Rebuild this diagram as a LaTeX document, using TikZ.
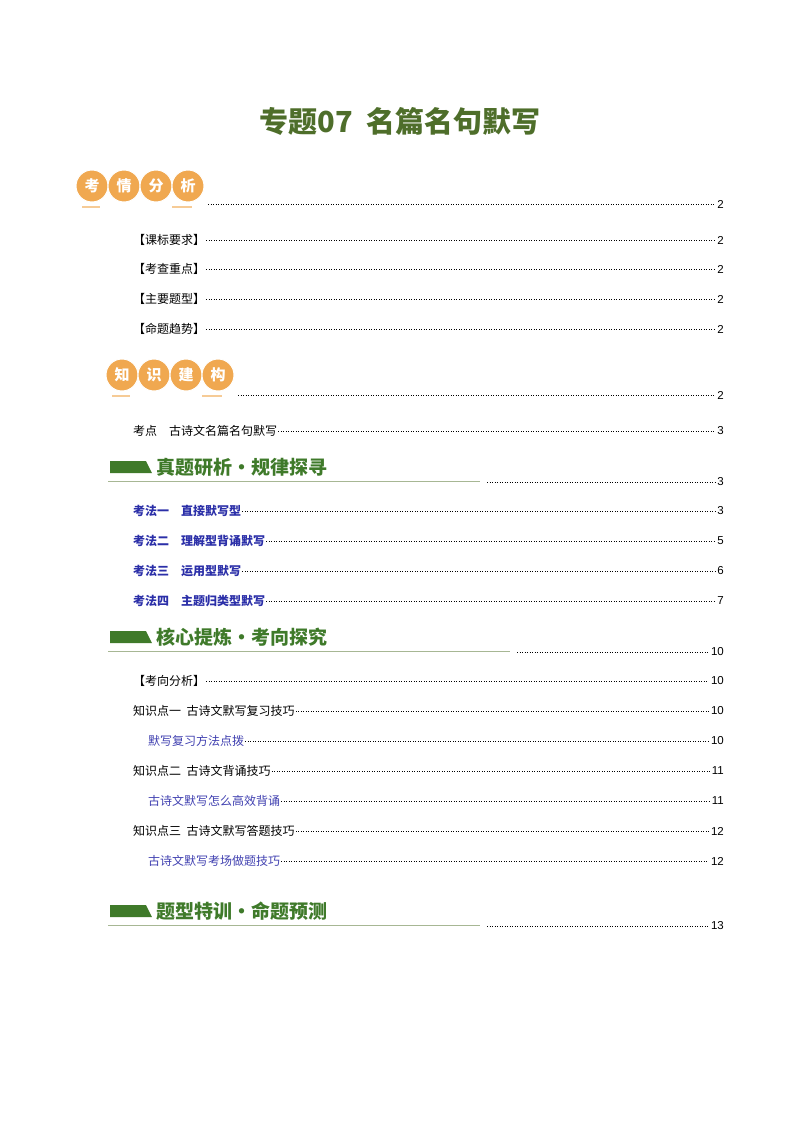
\documentclass[tikz,border=0pt]{standalone}
\usepackage{fontspec}
\setmainfont{Liberation Sans}
\newfontfamily\cjk{Noto Sans CJK SC}
\definecolor{tgreen}{HTML}{4E6E2A}
\definecolor{bgreen}{HTML}{3F7A2A}
\definecolor{borange}{HTML}{F0A850}
\definecolor{tblue}{HTML}{2B2FA8}
\definecolor{lblue}{HTML}{4040B0}
\tikzset{
  entry/.style={anchor=west,inner sep=0pt,font=\cjk\fontsize{12}{14}\selectfont},
  pg/.style={anchor=east,inner sep=0pt,font=\fontsize{11.5}{13}\selectfont},
  lead/.style={dotted,line width=0.5pt,shorten <=1pt,shorten >=2pt},
  badge/.style={circle,fill=borange,draw=white,line width=1pt,minimum size=32pt,inner sep=0pt,text=white,font=\cjk\bfseries\fontsize{15}{16}\selectfont},
  bantext/.style={anchor=west,inner sep=0pt,text=bgreen,font=\cjk\bfseries\fontsize{19}{20}\selectfont},
}
\begin{document}
\begin{tikzpicture}[x=1pt,y=-1pt]
\useasboundingbox (0,0) rectangle (800,1132);
\node[text=tgreen,font=\cjk\bfseries\fontsize{29}{32}\selectfont] (title) at (400,121) {专题07\ \ 名篇名句默写};
% badges 1
\foreach \c/\x [count=\i] in {考/92,情/124,分/156,析/188}{\node[badge] (ba\i) at (\x,186) {\c};}
\draw[borange!60,line width=1.5pt] (82,207)--(100,207) (172,207)--(192,207);
\coordinate (d0) at (207,204);
\node[pg] (p0) at (724,204) {2};
\draw[lead] (d0)--(p0.west);
% entries
\foreach \t/\y/\p [count=\i] in {【课标要求】/240/2,【考查重点】/269/2,【主要题型】/299/2,【命题趋势】/329/2,考点\quad 古诗文名篇名句默写/431/3,【考向分析】/681/10,知识点一\ \ 古诗文默写复习技巧/711/10,知识点二\ \ 古诗文背诵技巧/771/11,知识点三\ \ 古诗文默写答题技巧/831/12}{
  \node[entry] (e\i) at (133,\y) {\t};
  \node[pg] (q\i) at (724,\y) {\p};
  \draw[lead] (e\i.east)--(q\i.west);}
\foreach \t/\y/\p [count=\i] in {考法一\quad 直接默写型/511/3,考法二\quad 理解型背诵默写/541/5,考法三\quad 运用型默写/571/6,考法四\quad 主题归类型默写/601/7}{
  \node[entry,text=tblue,font=\cjk\bfseries\fontsize{12}{14}\selectfont] (f\i) at (133,\y) {\t};
  \node[pg] (r\i) at (724,\y) {\p};
  \draw[lead] (f\i.east)--(r\i.west);}
\foreach \t/\y/\p [count=\i] in {默写复习方法点拨/741/10,古诗文默写怎么高效背诵/801/11,古诗文默写考场做题技巧/861/12}{
  \node[entry,text=lblue] (g\i) at (148,\y) {\t};
  \node[pg] (s\i) at (724,\y) {\p};
  \draw[lead] (g\i.east)--(s\i.west);}
% badges 2
\foreach \c/\x [count=\i] in {知/122,识/154,建/186,构/218}{\node[badge] (bb\i) at (\x,375) {\c};}
\draw[borange!60,line width=1.5pt] (112,396)--(130,396) (202,396)--(222,396);
\coordinate (d1) at (237,395);
\node[pg] (p1) at (724,395) {2};
\draw[lead] (d1)--(p1.west);
% banners
\foreach \y/\xe/\t/\p [count=\i] in {467/480/真题研析·规律探寻/3,637/510/核心提炼·考向探究/10,911/480/题型特训·命题预测/13}{
  \fill[bgreen] (110,\y-6)--(146,\y-6)--(152,\y+6)--(110,\y+6)--cycle;
  \node[bantext] (bt\i) at (156,\y) {\t};
  \draw[tgreen!50,line width=0.8pt] (108,\y+14)--(\xe,\y+14);
  \coordinate (bd\i) at (\xe+6,\y+15);
  \node[pg] (bp\i) at (724,\y+15) {\p};
  \draw[lead] (bd\i)--(bp\i.west);}
\end{tikzpicture}
\end{document}
